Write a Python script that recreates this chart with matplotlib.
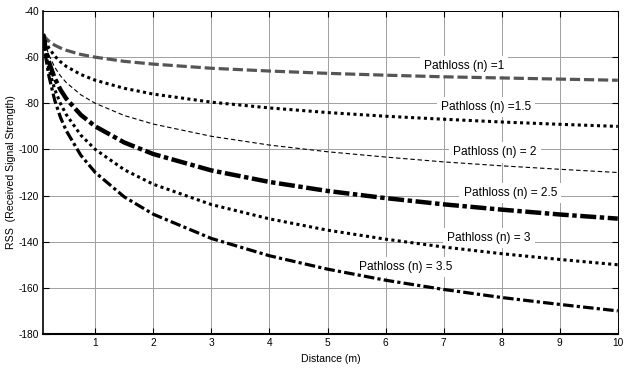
import matplotlib
matplotlib.use('Agg')
import matplotlib.pyplot as plt
from matplotlib import rcParams

# Global font (Arial-like), plain hyphen for minus signs
rcParams['font.family'] = ['Liberation Sans', 'DejaVu Sans']
rcParams['axes.unicode_minus'] = False

# Distance samples (m)
distance = [0.1, 0.15, 0.2, 0.3, 0.4, 0.5, 0.75, 1, 1.5, 2, 3, 4, 5, 6, 7, 8, 9, 10]

# RSS values for each path loss exponent
rss_n1 = [-50, -51.8, -53.0, -54.8, -56.0, -57.0, -58.8, -60.0, -61.8, -63.0, -64.8, -66.0, -67.0, -67.8, -68.5, -69.0, -69.5, -70.0]
rss_n15 = [-50, -53.5, -56.0, -59.5, -62.0, -64.0, -67.5, -70.0, -73.5, -76.0, -79.5, -82.0, -84.0, -85.6, -86.9, -88.1, -89.1, -90.0]
rss_n2 = [-50, -55.3, -59.0, -64.3, -68.1, -71.0, -76.3, -80.0, -85.3, -89.0, -94.3, -98.1, -101.0, -103.3, -105.4, -107.1, -108.6, -110.0]
rss_n25 = [-50, -57.0, -62.0, -69.1, -74.1, -78.0, -85.0, -90.0, -97.0, -102.0, -109.1, -114.1, -118.0, -121.1, -123.8, -126.1, -128.2, -130.0]
rss_n3 = [-50, -58.8, -65.1, -73.9, -80.1, -84.9, -93.8, -100.0, -108.8, -115.1, -123.9, -130.1, -135.0, -138.9, -142.3, -145.2, -147.7, -150.0]
rss_n35 = [-50, -60.6, -68.1, -78.6, -86.1, -91.9, -102.5, -110.0, -120.6, -128.1, -138.6, -146.1, -151.9, -156.7, -160.7, -164.2, -167.2, -170.0]

# Curve labels and where they sit (x, y in data units)
labels = ['Pathloss (n) =1', 'Pathloss (n) =1.5', 'Pathloss (n) = 2',
          'Pathloss (n) = 2.5', 'Pathloss (n) = 3', 'Pathloss (n) = 3.5']
label_x = [7.35, 7.73, 7.88, 8.15, 7.78, 6.35]
label_y = [-63.8, -81.7, -101.3, -119.0, -138.5, -151.0]

x_ticks = [1, 2, 3, 4, 5, 6, 7, 8, 9, 10]
y_ticks = [-180, -160, -140, -120, -100, -80, -60, -40]

# Figure setup
fig = plt.figure(figsize=(6.24, 3.69), dpi=100)
ax = fig.add_axes([0.069, 0.095, 0.921, 0.875])

# Curves
ax.plot(distance, rss_n1, color='#555555', linewidth=2.3, dashes=(3.2, 1.2), zorder=3)
ax.plot(distance, rss_n15, color='k', linewidth=2.2, dashes=(1, 1.1), zorder=3)
ax.plot(distance, rss_n2, color='k', linewidth=0.8, dashes=(4, 2.5), zorder=3)
ax.plot(distance, rss_n25, color='k', linewidth=3.2, dashes=(3.6, 0.8, 1, 0.8), zorder=3)
ax.plot(distance, rss_n3, color='k', linewidth=2.2, dashes=(1, 1.1), zorder=3)
ax.plot(distance, rss_n35, color='k', linewidth=2.3, dashes=(3.3, 1, 1, 1), zorder=3)

# Labels with white boxes that hide the grid
for txt, lx, ly in zip(labels, label_x, label_y):
    ax.text(lx, ly, txt, fontsize=8.6, ha='center', va='center', zorder=2.5,
            bbox=dict(facecolor='white', edgecolor='none', pad=3))

# Axes styling
ax.set_xlim(0.1, 10)
ax.set_ylim(-180, -40)
ax.set_xticks(x_ticks)
ax.set_yticks(y_ticks)
ax.grid(True, color='#a0a0a0', linewidth=0.7, zorder=1)
ax.set_axisbelow(True)
ax.tick_params(axis='both', direction='in', length=4, width=0.8, labelsize=7.3,
               top=True, right=True, pad=3)
ax.set_xlabel('Distance (m)', fontsize=7.6, labelpad=4)
ax.set_ylabel('RSS  (Received Signal Strength)', fontsize=7.6, labelpad=2)

ax.spines['bottom'].set_linewidth(1.5)
ax.spines['left'].set_linewidth(1.2)
ax.spines['top'].set_linewidth(0.7)
ax.spines['right'].set_linewidth(0.7)

fig.savefig('out.png', dpi=100)
